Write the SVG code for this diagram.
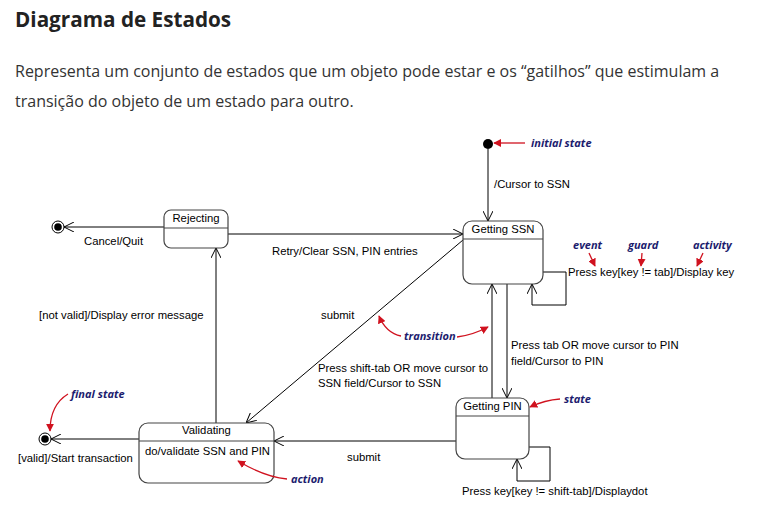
<svg xmlns="http://www.w3.org/2000/svg" width="766" height="529" viewBox="0 0 766 529">
<defs>
<style>
.h{font-family:"Open Sans","Noto Sans",sans-serif;font-weight:bold;font-size:20.7px;fill:#222}
.p{font-family:"Open Sans","Noto Sans",sans-serif;font-size:16px;fill:#333}
.t{font-family:"Liberation Sans",Arial,sans-serif;font-size:11.3px;fill:#000}
.a{font-family:"Open Sans","Liberation Sans",sans-serif;font-size:11px;font-style:italic;font-weight:bold;fill:#1c1c6e}
.st{fill:#fff;stroke:#444;stroke-width:1.2}
.ln{fill:none;stroke:#000;stroke-width:1}
.rd{fill:none;stroke:#d0121f;stroke-width:1.3}
</style>
<marker id="oa" viewBox="0 0 10 10" refX="10" refY="5" markerWidth="10" markerHeight="10" markerUnits="userSpaceOnUse" orient="auto">
<path d="M0,0 L10,5 L0,10" fill="none" stroke="#000" stroke-width="1"/>
</marker>
<marker id="ra" viewBox="0 0 10 10" refX="9" refY="5" markerWidth="8" markerHeight="8" markerUnits="userSpaceOnUse" orient="auto">
<path d="M0,0 L10,5 L0,10 Z" fill="#d0121f"/>
</marker>
</defs>
<rect width="766" height="529" fill="#fff"/>
<text class="h" x="15" y="27">Diagrama de Estados</text>
<text class="p" x="15" y="77">Representa um conjunto de estados que um objeto pode estar e os “gatilhos” que estimulam a</text>
<text class="p" x="15" y="107">transição do objeto de um estado para outro.</text>

<g id="connectors">
<line class="ln" x1="488" y1="149" x2="488" y2="221" marker-end="url(#oa)"/>
<line class="ln" x1="164" y1="227" x2="64" y2="227" marker-end="url(#oa)"/>
<line class="ln" x1="228" y1="234" x2="463" y2="234" marker-end="url(#oa)"/>
<line class="ln" x1="463" y1="240" x2="246" y2="423" marker-end="url(#oa)"/>
<line class="ln" x1="216" y1="423" x2="216" y2="248" marker-end="url(#oa)"/>
<line class="ln" x1="139" y1="439" x2="51" y2="439" marker-end="url(#oa)"/>
<line class="ln" x1="492" y1="398" x2="492" y2="284" marker-end="url(#oa)"/>
<line class="ln" x1="507" y1="284" x2="507" y2="398" marker-end="url(#oa)"/>
<line class="ln" x1="456" y1="441" x2="274" y2="441" marker-end="url(#oa)"/>
<polyline class="ln" points="543,272 566,272 566,305 532,305 532,284" marker-end="url(#oa)"/>
<polyline class="ln" points="529,447 550,447 550,481 517,481 517,459" marker-end="url(#oa)"/>
<text class="t" x="494" y="188">/Cursor to SSN</text>
<text class="t" x="84" y="245">Cancel/Quit</text>
<text class="t" x="272" y="255">Retry/Clear SSN, PIN entries</text>
<text class="t" x="321" y="319">submit</text>
<text class="t" x="39" y="319">[not valid]/Display error message</text>
<text class="t" x="18" y="462">[valid]/Start transaction</text>
<text class="t" x="511" y="349">Press tab OR move cursor to PIN</text>
<text class="t" x="511" y="365">field/Cursor to PIN</text>
<text class="t" x="318" y="372">Press shift-tab OR move cursor to</text>
<text class="t" x="318" y="387">SSN field/Cursor to SSN</text>
<text class="t" x="568" y="276">Press key[key != tab]/Display key</text>
<text class="t" x="462" y="495">Press key[key != shift-tab]/Displaydot</text>
<text class="t" x="347" y="461">submit</text>
</g>

<g id="initial">
<circle cx="488" cy="144" r="5" fill="#000"/>
</g>
<g id="final-top">
<circle cx="58" cy="227" r="6" fill="#fff" stroke="#000" stroke-width="1"/>
<circle cx="58" cy="227" r="3.8" fill="#000"/>
</g>
<g id="final-bottom">
<circle cx="45" cy="439" r="6" fill="#fff" stroke="#000" stroke-width="1"/>
<circle cx="45" cy="439" r="3.8" fill="#000"/>
</g>
<g id="rejecting">
<rect class="st" x="164" y="210" width="64" height="38" rx="7"/>
<line class="st" x1="164" y1="228" x2="228" y2="228"/>
<text class="t" x="196" y="222" text-anchor="middle">Rejecting</text>
</g>
<g id="getting-ssn">
<rect class="st" x="463" y="221" width="80" height="63" rx="9"/>
<line class="st" x1="463" y1="239" x2="543" y2="239"/>
<text class="t" x="503" y="233" text-anchor="middle">Getting SSN</text>
</g>
<g id="getting-pin">
<rect class="st" x="456" y="398" width="73" height="61" rx="9"/>
<line class="st" x1="456" y1="416" x2="529" y2="416"/>
<text class="t" x="492.5" y="410" text-anchor="middle">Getting PIN</text>
</g>
<g id="validating">
<rect class="st" x="139" y="423" width="135" height="60" rx="9"/>
<line class="st" x1="139" y1="441" x2="274" y2="441"/>
<text class="t" x="206.5" y="434" text-anchor="middle">Validating</text>
<text class="t" x="145" y="455">do/validate SSN and PIN</text>
</g>

<g id="annotations">
<line class="rd" x1="525" y1="143" x2="494" y2="143" marker-end="url(#ra)"/>
<text class="a" x="531" y="147">initial state</text>
<text class="a" x="573" y="249">event</text>
<path class="rd" d="M589,253 L595,266" marker-end="url(#ra)"/>
<text class="a" x="628" y="249">guard</text>
<path class="rd" d="M642,253 L641,266" marker-end="url(#ra)"/>
<text class="a" x="693" y="249">activity</text>
<path class="rd" d="M703,253 L697,266" marker-end="url(#ra)"/>
<text class="a" x="404" y="340">transition</text>
<path class="rd" d="M401,336 Q386,333 379,316" marker-end="url(#ra)"/>
<path class="rd" d="M457,337 Q473,335 488,327" marker-end="url(#ra)"/>
<text class="a" x="71" y="398">final state</text>
<path class="rd" d="M68,394 Q50,405 50,431" marker-end="url(#ra)"/>
<text class="a" x="564" y="403">state</text>
<path class="rd" d="M560,399 Q545,400 530,407" marker-end="url(#ra)"/>
<text class="a" x="291" y="483">action</text>
<path class="rd" d="M287,479 Q265,477 238,461" marker-end="url(#ra)"/>
</g>
</svg>
